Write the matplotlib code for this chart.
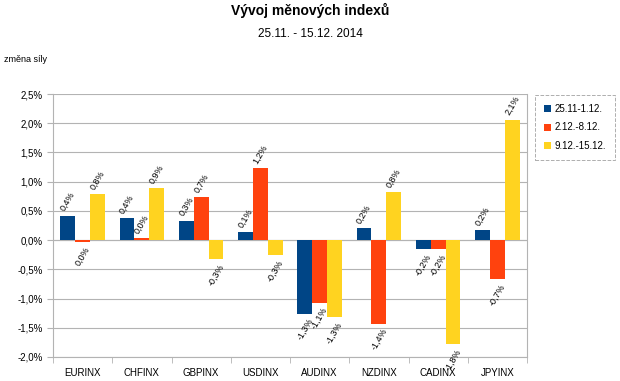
import numpy as np
import matplotlib.pyplot as plt
from matplotlib.ticker import FuncFormatter, FixedLocator

plt.rcParams['font.family'] = ['Liberation Sans', 'DejaVu Sans']

categories = ['EURINX', 'CHFINX', 'GBPINX', 'USDINX', 'AUDINX', 'NZDINX', 'CADINX', 'JPYINX']
series_names = ['25.11-1.12.', '2.12.-8.12.', '9.12.-15.12.']
week1 = [0.42, 0.37, 0.33, 0.14, -1.26, 0.20, -0.16, 0.17]
week2 = [-0.03, 0.03, 0.73, 1.23, -1.07, -1.43, -0.16, -0.67]
week3 = [0.79, 0.89, -0.33, -0.26, -1.32, 0.82, -1.78, 2.06]
colors = ['#004586', '#ff420e', '#ffd320']


def pct(v):
    r = round(v, 1)
    if r == 0:
        r = 0.0
    return ('%.1f%%' % r).replace('.', ',')


fig = plt.figure(figsize=(6.2, 3.81), dpi=100)
ax = fig.add_axes([53 / 620, 1 - 357 / 381, (527 - 53) / 620, (357 - 94) / 381])

x = np.arange(len(categories))
width = 0.25
handles = []
for i, (vals, col) in enumerate(zip([week1, week2, week3], colors)):
    pos = x + (i - 1) * width
    bars = ax.bar(pos, vals, width, color=col, zorder=3, label=series_names[i])
    handles.append(bars)
    for p, v in zip(pos, vals):
        if v >= 0:
            ax.text(p, v + 0.05, pct(v), rotation=60, ha='center', va='bottom', fontsize=6.5)
        else:
            ax.text(p, v - 0.05, pct(v), rotation=60, ha='center', va='top', fontsize=6.5)

ax.set_xlim(-0.5, len(categories) - 0.5)
ax.set_ylim(-2.0, 2.5)
ax.set_yticks(np.arange(-2.0, 2.51, 0.5))
ax.yaxis.set_major_formatter(FuncFormatter(lambda v, p: ('%.1f%%' % v).replace('.', ',')))
ax.set_xticks(x)
ax.set_xticklabels(categories)
ax.xaxis.set_minor_locator(FixedLocator(np.arange(-0.5, len(categories), 1.0)))
ax.tick_params(axis='x', which='major', length=0, pad=8, labelsize=7)
ax.tick_params(axis='x', which='minor', length=4, color='#b3b3b3')
ax.tick_params(axis='y', length=4, color='#b3b3b3', labelsize=7)
ax.grid(axis='y', color='#b3b3b3', linewidth=0.8, zorder=0)
ax.axhline(0, color='#b3b3b3', linewidth=0.8, zorder=2)
for s in ax.spines.values():
    s.set_color('#b3b3b3')
ax.spines['top'].set_visible(False)

fig.text(0.5, 1 - 10 / 381, 'Vývoj měnových indexů', ha='center', va='center',
         fontsize=10, fontweight='bold')
fig.text(0.5, 1 - 34 / 381, '25.11. - 15.12. 2014', ha='center', va='center', fontsize=8.5)
fig.text(4 / 620, 1 - 60 / 381, 'změna síly', ha='left', va='center', fontsize=6.5)

leg = fig.legend(handles=handles, loc='upper left', bbox_to_anchor=(535 / 620, 1 - 95 / 381),
                 fontsize=7, handlelength=0.7, handleheight=0.7, handletextpad=0.4,
                 borderpad=0.9, labelspacing=0.9, fancybox=False, borderaxespad=0)
frame = leg.get_frame()
frame.set_linestyle('--')
frame.set_edgecolor('#999999')
frame.set_linewidth(0.7)

fig.savefig('out.png', dpi=100)
